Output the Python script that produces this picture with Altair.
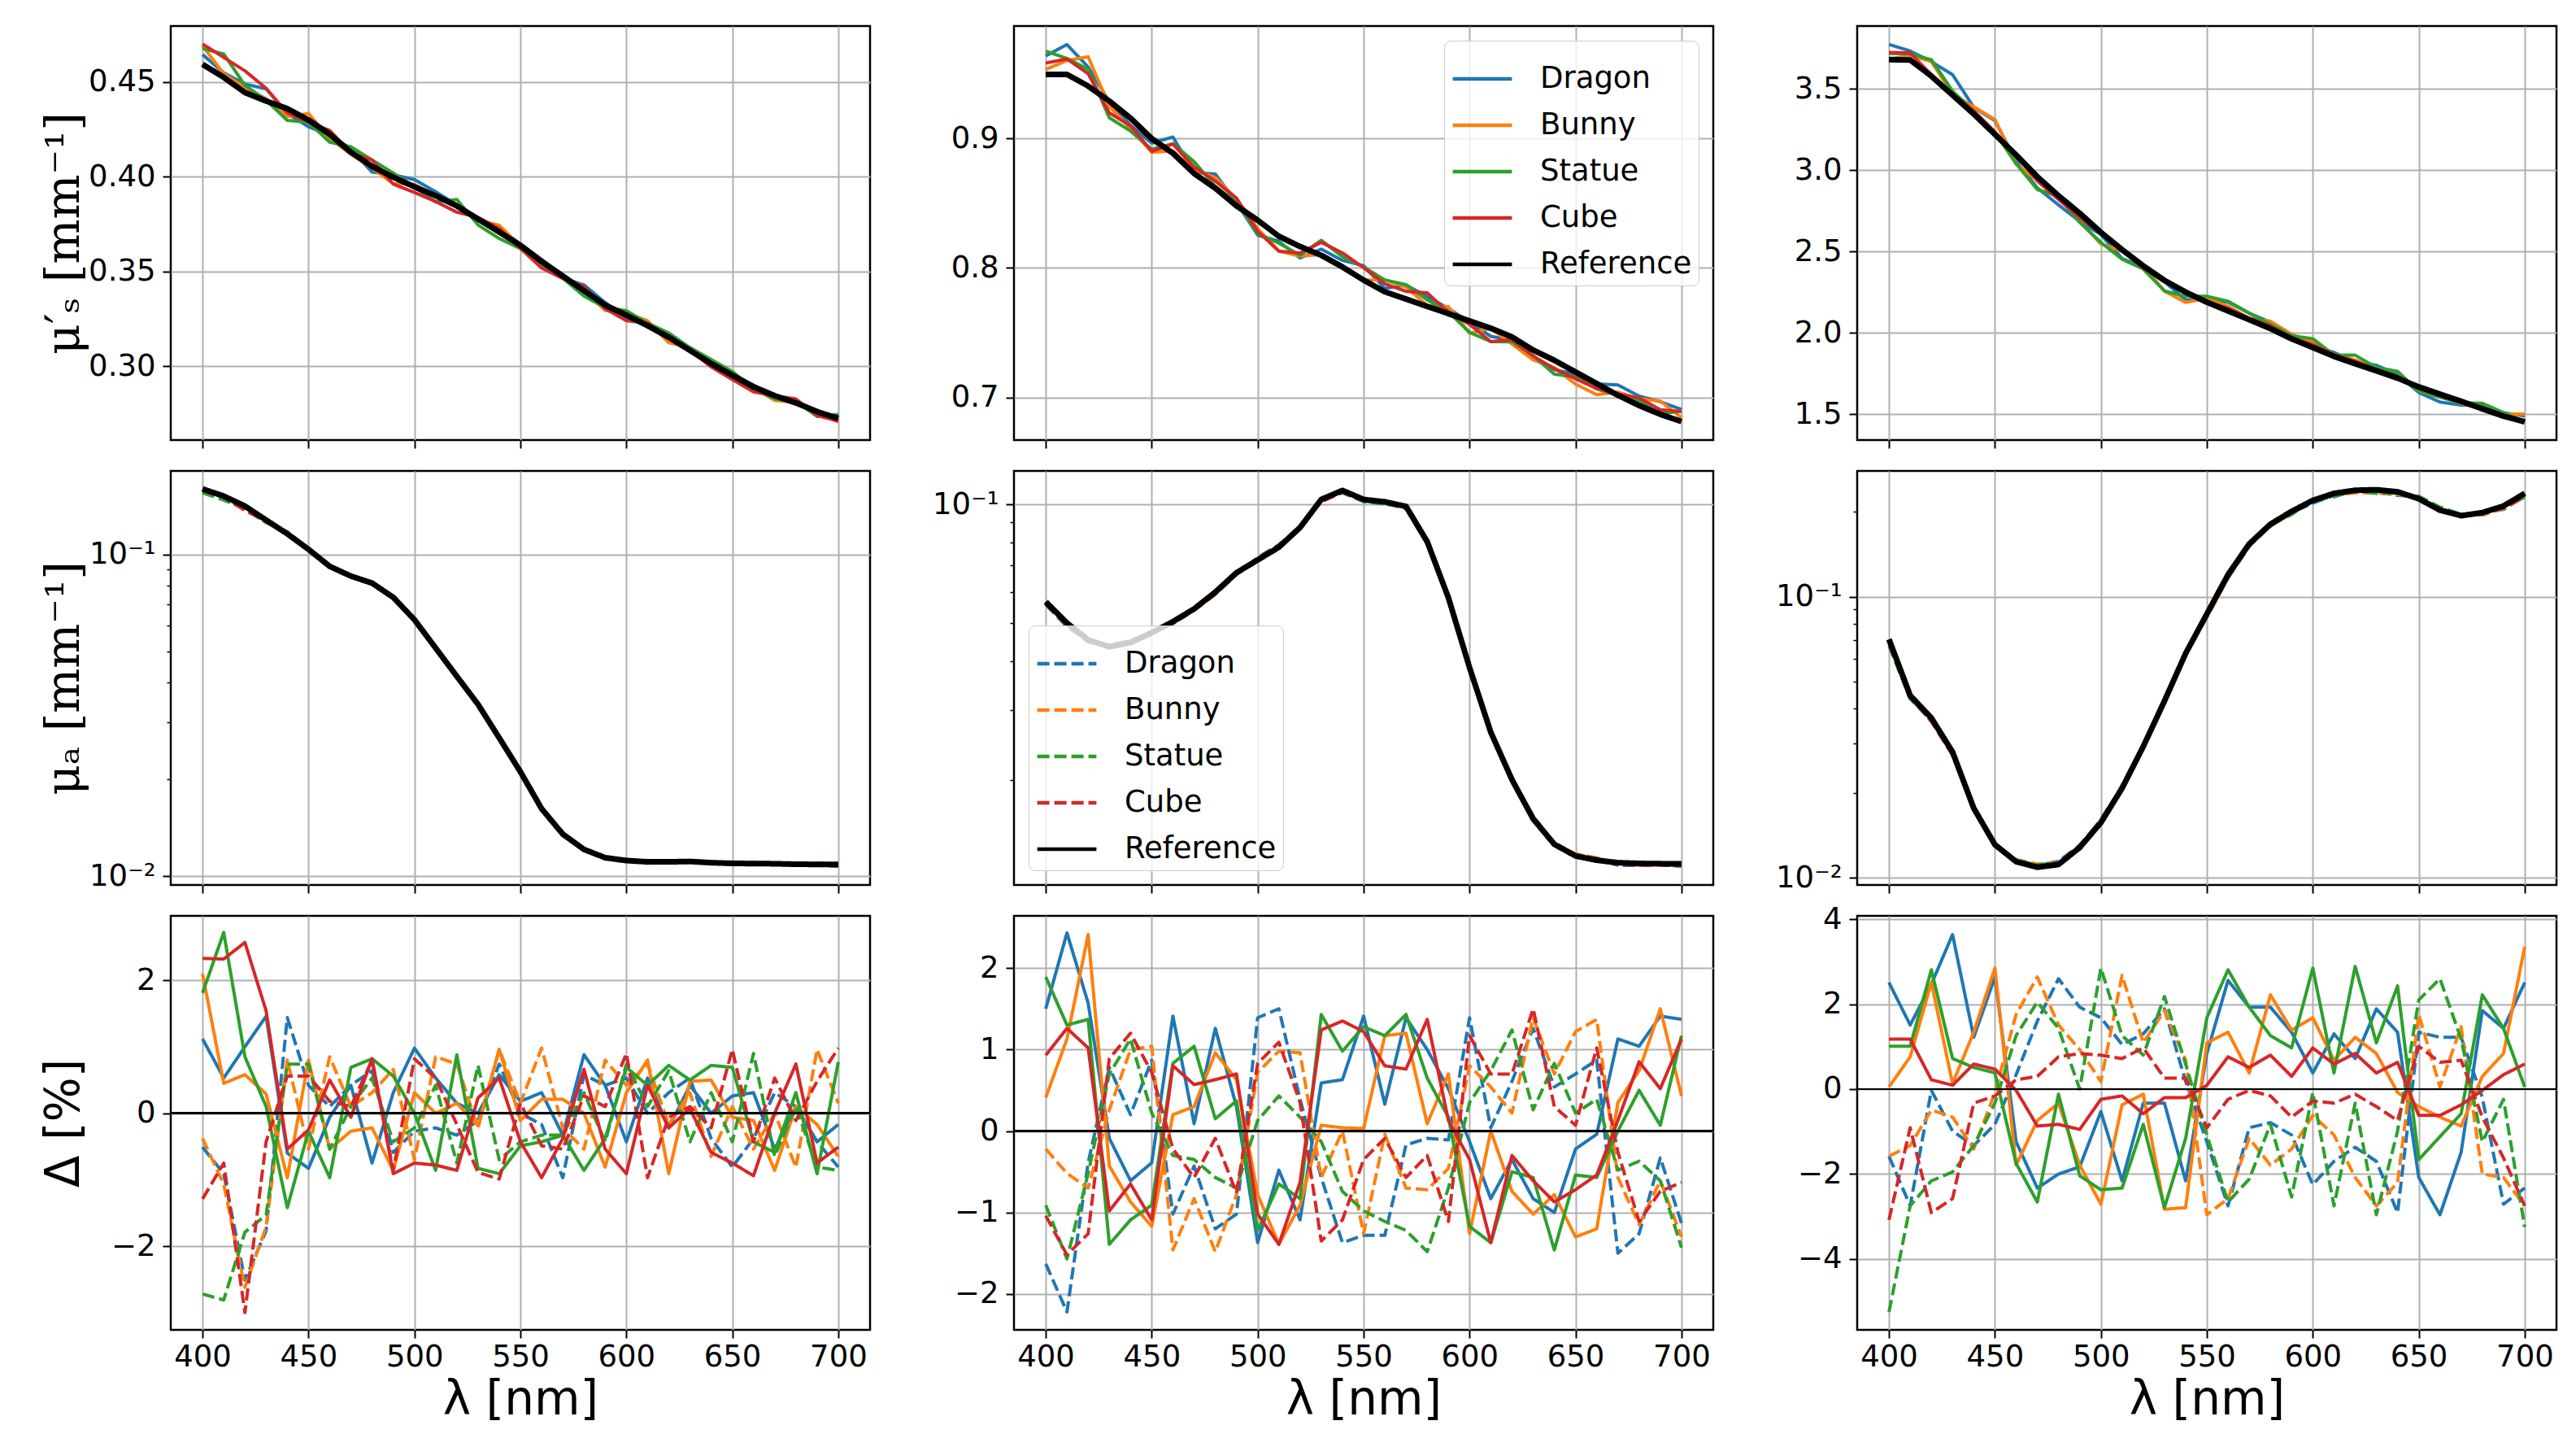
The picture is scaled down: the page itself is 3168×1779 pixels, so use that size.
import altair as alt
import pandas as pd

wavelength = list(range(400, 701, 10))
objects = ["Dragon", "Bunny", "Statue", "Cube"]
palette = ["#1f77b4", "#ff7f0e", "#2ca02c", "#d62728"]

# reference optical properties of the three phantoms (left, middle, right column)
mus_ref_a = [0.4594, 0.4525, 0.4445, 0.4400, 0.4360, 0.4300, 0.4224, 0.4130, 0.4055, 0.3998, 0.3947,
             0.3900, 0.3846, 0.3777, 0.3708, 0.3638, 0.3553, 0.3476, 0.3399, 0.3322, 0.3270, 0.3214,
             0.3153, 0.3083, 0.3014, 0.2952, 0.2891, 0.2844, 0.2806, 0.2760, 0.2724]
mus_ref_b = [0.9496, 0.9496, 0.9406, 0.9290, 0.9158, 0.9000, 0.8887, 0.8730, 0.8617, 0.8480, 0.8369,
             0.8245, 0.8166, 0.8098, 0.8008, 0.7906, 0.7816, 0.7760, 0.7703, 0.7647, 0.7591, 0.7534,
             0.7467, 0.7365, 0.7286, 0.7196, 0.7106, 0.7016, 0.6937, 0.6869, 0.6813]
mus_ref_c = [3.681, 3.678, 3.579, 3.462, 3.346, 3.220, 3.094, 2.960, 2.843, 2.735, 2.618, 2.511, 2.412,
             2.322, 2.250, 2.188, 2.134, 2.080, 2.026, 1.963, 1.909, 1.855, 1.810, 1.766, 1.721, 1.667,
             1.622, 1.578, 1.532, 1.487, 1.452]

mua_ref_a = [0.1600, 0.1520, 0.1415, 0.1280, 0.1160, 0.1038, 0.0919, 0.0857, 0.0815, 0.0736, 0.0627,
             0.0512, 0.0418, 0.0342, 0.0269, 0.0211, 0.0162, 0.0135, 0.0121, 0.0114, 0.01117, 0.01107,
             0.01107, 0.01110, 0.01100, 0.01095, 0.01093, 0.01092, 0.01088, 0.01087, 0.01085]
mua_ref_b = [0.0566, 0.0500, 0.0453, 0.0435, 0.0446, 0.0472, 0.0504, 0.0543, 0.0599, 0.0671, 0.0723,
             0.0779, 0.0874, 0.1030, 0.1086, 0.1030, 0.1016, 0.0989, 0.0805, 0.0580, 0.0385, 0.0264,
             0.0200, 0.0159, 0.0137, 0.0128, 0.01248, 0.0123, 0.01225, 0.01223, 0.01222]
mua_ref_c = [0.0705, 0.0445, 0.0370, 0.0280, 0.01767, 0.0131, 0.0114, 0.01089, 0.01114, 0.0128, 0.0157,
             0.0208, 0.0293, 0.0425, 0.0628, 0.0867, 0.1197, 0.1540, 0.1810, 0.2010, 0.2200, 0.2330,
             0.2390, 0.2400, 0.2360, 0.2230, 0.2030, 0.1940, 0.1990, 0.2100, 0.2330]

# relative deviation of each estimate from the reference, in %
dmus_a_dragon = [1.12, 0.53, 1.0, 1.46, -0.6, -0.83, -0.06, 0.42, -0.75, 0.31, 0.98, 0.53, 0.15, 0.0, 0.58, 0.18,
                 0.31, -0.33, 0.88, 0.42, -0.43, 0.53, -0.22, 0.42, 0.0, 0.26, 0.31, -0.54, 0.1, -0.43, -0.17]
dmus_a_bunny = [2.1, 0.45, 0.58, 0.29, -0.97, 0.8, -0.54, -0.27, -0.22, -0.86, 0.31, 0.0, 0.15, -0.19, 0.96, -0.11,
                0.21, 0.21, 0.0, -0.81, 0.31, 0.8, -0.91, 0.48, 0.5, -0.06, -0.11, -0.86, 0.1, -0.17, -0.65]
dmus_a_statue = [1.81, 2.72, 0.85, 0.1, -1.42, -0.27, -0.97, 0.69, 0.82, 0.56, 0.0, -0.86, 0.88, -0.83, -0.91, -0.49,
                 -0.43, -0.33, -0.86, -0.38, 0.69, 0.42, 0.72, 0.5, 0.72, 0.69, -0.43, -0.59, 0.31, -0.91, 0.77]
dmus_a_cube = [2.33, 2.32, 2.57, 1.54, -0.54, -0.25, 0.5, -0.06, 0.82, -0.91, -0.75, -0.78, -0.86, 0.23, 0.53, -0.43,
               -0.97, -0.38, 0.66, -0.54, -0.91, 0.42, -0.22, 0.07, -0.59, -0.75, -0.94, 0.0, 0.74, -0.75, -0.51]
dmua_a_dragon = [-0.51, -0.91, -2.51, -1.77, 1.44, 0.42, 0.1, 0.42, 0.64, -0.59, -0.27, -0.22, -0.33, -0.11, 0.74, 0.0,
                 -0.17, -0.97, 0.58, 0.42, 0.53, 0.0, 0.31, 0.53, -0.38, -0.81, -0.38, 0.31, 0.1, -0.43, -0.81]
dmua_a_bunny = [-0.38, -1.07, -2.62, -1.71, 0.8, -0.54, 0.85, 0.1, 0.31, 0.66, -0.7, 0.85, 0.74, -0.22, 0.96, 0.15,
                0.98, -0.22, -0.54, 0.8, 0.42, 0.74, -0.17, 0.31, -0.65, 0.1, -0.54, 0.0, -0.81, 0.96, 0.15]
dmua_a_statue = [-2.72, -2.81, -1.79, -1.53, 0.74, 0.74, -0.54, 0.1, 0.53, -0.43, -0.22, 0.42, -0.75, 0.72, -0.7, -0.43,
                 -0.33, -0.33, 0.31, -0.43, 0.74, 0.1, 0.64, -0.43, 0.31, -0.43, 0.9, -0.65, 0.1, -0.81, -0.86]
dmua_a_cube = [-1.29, -0.75, -3.0, -0.43, 0.56, 0.56, 0.18, 0.1, 0.8, -0.86, 0.82, 0.53, -0.17, -0.89, -0.99, 0.15,
               -0.49, -0.54, 0.26, 0.1, 0.9, -0.97, -0.06, 0.1, -0.22, 0.96, -0.43, 0.53, -0.11, 0.48, 0.98]

dmus_b_dragon = [1.5, 2.43, 1.57, -0.09, -0.61, -0.39, 1.41, 0.09, 1.26, 0.3, -1.37, -0.48, -1.09, 0.59, 0.63, 1.41,
                 0.33, 1.39, 1.0, 0.52, -0.13, -0.83, -0.35, -0.83, -1.0, -0.22, -0.04, 1.13, 1.04, 1.41, 1.37]
dmus_b_bunny = [0.41, 1.13, 2.41, -0.43, -0.87, -1.17, 0.2, 0.3, 0.96, 0.63, -0.78, -1.39, -0.91, 0.07, 0.04, 0.03,
                1.17, 1.2, 0.09, 0.7, -1.26, 0.0, -0.74, -1.02, -0.78, -1.3, -1.2, 0.35, 0.74, 1.5, 0.43]
dmus_b_statue = [1.89, 1.3, 1.37, -1.39, -1.09, -0.91, 0.83, 1.04, 0.15, 0.37, -1.22, -0.65, -0.83, 1.43, 0.98, 1.28,
                 1.17, 1.43, 0.65, 0.17, -1.17, -1.37, -0.5, -0.57, -1.46, -0.54, -0.57, 0.0, 0.5, 0.07, 1.17]
dmus_b_cube = [0.93, 1.26, 1.02, -0.98, -0.65, -1.09, 0.8, 0.57, 0.63, 0.7, -1.02, -1.39, -0.63, 1.24, 1.35, 1.22,
               0.8, 0.76, 1.37, 0.13, -0.35, -1.37, -0.3, -0.61, -0.87, -0.72, -0.54, 0.13, 0.85, 0.52, 1.13]
dmua_b_dragon = [-1.63, -2.22, -0.39, 0.78, 0.2, 0.87, -1.02, -0.43, -1.2, -1.02, 1.39, 1.5, 0.39, -0.57, -1.37, -1.28,
                 -1.28, -0.17, -0.09, -0.11, 1.39, 0.04, 0.61, 1.26, 0.54, 0.7, 0.87, -1.5, -1.26, -0.33, -1.13]
dmua_b_bunny = [-0.22, -0.52, -0.7, 0.26, 1.0, 1.04, -1.46, -0.83, -1.48, -0.78, 0.72, 0.98, 0.96, -0.57, 0.0, -1.26,
                -0.04, -0.7, -0.72, -0.46, 0.8, 0.54, 0.22, 1.39, 0.7, 1.22, 1.37, -0.57, -1.15, -0.61, -1.3]
dmua_b_statue = [-0.91, -1.57, -0.52, 0.7, 1.13, 0.22, -0.3, -0.35, -0.57, -0.7, 0.13, 0.43, 0.17, -0.13, -0.74, -0.98,
                 -1.11, -1.22, -1.48, -0.7, 0.35, 0.74, 1.24, 0.26, 0.83, 0.22, 0.39, -0.48, -0.37, -0.61, -1.43]
dmua_b_cube = [-1.04, -1.52, -1.26, 0.89, 1.2, 0.72, -0.22, -0.57, -0.09, -0.76, 0.83, 1.09, 0.35, -1.35, -1.09, -0.35,
               -0.09, -0.57, -0.3, -1.11, 1.17, 0.7, 0.7, 1.5, 0.3, 0.07, 1.02, -0.26, -1.11, -0.74, -0.63]

dmus_c_dragon = [2.51, 1.51, 2.47, 3.64, 1.22, 2.64, -1.24, -2.33, -2.0, -1.83, -0.53, -2.16, -0.33, -0.33, -2.16, 0.84,
                 2.56, 1.93, 1.93, 1.34, 0.38, 1.3, 0.72, 1.89, 1.34, -2.08, -2.96, -1.49, 1.85, 1.43, 2.51]
dmus_c_bunny = [0.05, 0.76, 2.51, 0.13, 1.34, 2.85, -1.79, -0.74, -0.33, -1.79, -2.71, -0.37, -0.12, -2.83, -2.79, 1.09,
                1.34, 0.38, 2.22, 1.39, 1.68, 0.68, 1.22, 0.84, -0.08, -0.41, -0.66, -0.87, 0.3, 0.84, 3.35]
dmus_c_statue = [1.01, 1.01, 2.81, 0.72, 0.51, 0.38, -1.75, -2.66, -0.12, -2.04, -2.37, -2.33, -0.83, -2.79, -1.16, 1.68,
                 2.81, 1.93, 1.26, 0.97, 2.85, 0.38, 2.89, 1.09, 2.43, -1.66, -1.12, -0.58, 2.22, 1.43, 0.05]
dmus_c_cube = [1.18, 1.18, 0.22, 0.09, 0.59, 0.47, -0.03, -0.87, -0.83, -0.95, -0.24, -0.16, -0.58, -0.2, -0.2, 0.09,
               0.76, 0.51, 0.8, 0.3, 0.97, 0.59, 0.84, 0.38, 0.63, -0.62, -0.62, -0.37, -0.03, 0.34, 0.59]
dmua_c_dragon = [-1.58, -2.75, -0.03, -0.99, -1.33, -0.83, 0.34, 1.6, 2.6, 1.93, 1.68, 1.05, 1.3, 1.89, 0.18, -1.24,
                 -2.75, -0.91, -0.79, -1.08, -2.25, -1.7, -1.37, -1.7, -2.91, 1.34, 1.22, 1.22, -0.2, -2.71, -2.33]
dmua_c_bunny = [-1.58, -1.33, -0.49, -0.66, -1.41, -0.08, 1.76, 2.64, 1.51, 0.93, 0.18, 2.68, 1.09, 1.85, 0.68, -2.96,
                -2.58, -1.16, -1.79, -1.41, -0.62, -1.08, -2.08, -2.75, -2.2, 1.76, 0.05, 1.47, -2.0, -2.08, -2.75]
dmua_c_statue = [-5.25, -2.75, -2.16, -1.95, -1.33, -0.33, 1.26, 2.05, 1.43, 0.0, 2.85, 1.26, 0.8, 2.18, 0.59, -1.08,
                 -2.66, -2.12, -0.83, -2.54, -0.08, -2.75, -0.33, -2.96, -0.99, 2.1, 2.6, 1.18, -1.24, -0.24, -3.25]
dmua_c_cube = [-3.08, -0.91, -2.91, -2.58, -0.33, -0.16, 0.22, 0.3, 0.76, 0.84, 0.8, 0.72, 0.97, 0.26, 0.26, -0.91,
               -0.24, -0.03, -0.16, -0.66, -0.28, -0.33, -0.12, -0.41, -0.74, 1.01, 0.63, 0.68, -0.66, -1.62, -2.75]

x_ticks = [400, 450, 500, 550, 600, 650, 700]
names = objects + ["Reference"]
colors = palette + ["black"]
W, H = 860, 509
FONT = "DejaVu Sans"


def legend(orient):
    return alt.Legend(title=None, orient=orient, offset=18, symbolType="stroke", symbolSize=5300,
                      symbolStrokeWidth=4.5, labelFont=FONT, labelFontSize=37, labelColor="black",
                      labelOffset=32, rowPadding=0, padding=8, labelLimit=0,
                      fillColor="rgba(255,255,255,0.8)", strokeColor="#cccccc", cornerRadius=8)


def x_enc(bottom):
    if bottom:
        ax = alt.Axis(values=x_ticks, format="d", title="λ [nm]", titlePadding=6)
    else:
        ax = alt.Axis(values=x_ticks, labels=False, title=None)
    return alt.X("wl:Q", scale=alt.Scale(domain=[385, 715], nice=False, zero=False), axis=ax)


def y_axis(values, fmt=None, title=None, title_font=FONT, log=False):
    kw = dict(values=values, title=title, labelOverlap=False)
    if fmt:
        kw["format"] = fmt
    if title:
        kw.update(minExtent=95, maxExtent=95, titlePadding=7, titleFont=title_font)
    if log:
        major = "datum.value == 0.1 || datum.value == 0.01"
        kw["labelExpr"] = "datum.value == 0.1 ? '10⁻¹' : datum.value == 0.01 ? '10⁻²' : ''"
        kw["tickSize"] = {"condition": {"test": major, "value": 10}, "value": 5}
        kw["tickWidth"] = {"condition": {"test": major, "value": 2}, "value": 1.5}
        kw["gridOpacity"] = {"condition": {"test": major, "value": 1}, "value": 0}
    return alt.Axis(**kw)


def curve_panel(ref, deltas, domain, axis, log=False, dashed=False, leg=None):
    # estimated curves are the reference scaled by the plotted deviation
    rows = []
    for name, d in zip(objects, deltas):
        for w, r, dv in zip(wavelength, ref, d):
            rows.append({"wl": w, "val": r * (1 + dv / 100), "series": name})
    est = pd.DataFrame(rows)
    refdf = pd.DataFrame({"wl": wavelength, "val": ref, "series": "Reference"})

    sc = alt.Scale(domain=domain, nice=False, zero=False, type="log") if log else \
        alt.Scale(domain=domain, nice=False, zero=False)
    enc = dict(
        x=x_enc(False),
        y=alt.Y("val:Q", scale=sc, axis=axis),
        color=alt.Color("series:N", scale=alt.Scale(domain=names, range=colors), legend=leg),
    )
    if dashed:
        enc["strokeDash"] = alt.StrokeDash(
            "series:N", scale=alt.Scale(domain=names, range=[[15, 6]] * 4 + [[1, 0]]), legend=leg)
    lines = alt.Chart(est).mark_line(strokeWidth=4, strokeJoin="round").encode(**enc)
    refl = alt.Chart(refdf).mark_line(strokeWidth=7, strokeJoin="round").encode(**enc)
    return alt.layer(lines, refl).properties(width=W, height=H)


def delta_panel(mus_d, mua_d, domain, axis):
    rows = []
    for name, dm, da in zip(objects, mus_d, mua_d):
        for w, a, b in zip(wavelength, dm, da):
            rows.append({"wl": w, "delta": a, "series": name, "kind": "mus"})
            rows.append({"wl": w, "delta": b, "series": name, "kind": "mua"})
    df = pd.DataFrame(rows)
    lines = alt.Chart(df).mark_line(strokeWidth=4, strokeJoin="round").encode(
        x=x_enc(True),
        y=alt.Y("delta:Q", scale=alt.Scale(domain=domain, nice=False, zero=False), axis=axis),
        color=alt.Color("series:N", scale=alt.Scale(domain=names, range=colors), legend=None),
        strokeDash=alt.StrokeDash("kind:N", scale=alt.Scale(domain=["mus", "mua"], range=[[1, 0], [15, 6]]),
                                  legend=None),
        detail="kind:N",
    )
    zero = alt.Chart(df).mark_rule(color="black", strokeWidth=2).encode(y=alt.datum(0))
    return alt.layer(lines, zero).properties(width=W, height=H)


minor_a = [0.01, 0.02, 0.03, 0.04, 0.05, 0.06, 0.07, 0.08, 0.09, 0.1]
minor_b = [0.02, 0.03, 0.04, 0.05, 0.06, 0.07, 0.08, 0.09, 0.1]
minor_c = [0.01, 0.02, 0.03, 0.04, 0.05, 0.06, 0.07, 0.08, 0.09, 0.1, 0.2]

panels = [
    curve_panel(mus_ref_a, [dmus_a_dragon, dmus_a_bunny, dmus_a_statue, dmus_a_cube], [0.261, 0.4796],
                y_axis([0.30, 0.35, 0.40, 0.45], ".2f", "μ′ₛ [mm⁻¹]", "DejaVu Serif")),
    curve_panel(mus_ref_b, [dmus_b_dragon, dmus_b_bunny, dmus_b_statue, dmus_b_cube], [0.667, 0.987],
                y_axis([0.7, 0.8, 0.9], ".1f"), leg=legend("top-right")),
    curve_panel(mus_ref_c, [dmus_c_dragon, dmus_c_bunny, dmus_c_statue, dmus_c_cube], [1.34, 3.887],
                y_axis([1.5, 2.0, 2.5, 3.0, 3.5], ".1f")),
    curve_panel(mua_ref_a, [dmua_a_dragon, dmua_a_bunny, dmua_a_statue, dmua_a_cube], [0.00938, 0.182],
                y_axis(minor_a, None, "μₐ [mm⁻¹]", "DejaVu Serif", log=True), log=True, dashed=True),
    curve_panel(mua_ref_b, [dmua_b_dragon, dmua_b_bunny, dmua_b_statue, dmua_b_cube], [0.0108, 0.1217],
                y_axis(minor_b, log=True), log=True, dashed=True, leg=legend("bottom-left")),
    curve_panel(mua_ref_c, [dmua_c_dragon, dmua_c_bunny, dmua_c_statue, dmua_c_cube], [0.00942, 0.28],
                y_axis(minor_c, log=True), log=True, dashed=True),
    delta_panel([dmus_a_dragon, dmus_a_bunny, dmus_a_statue, dmus_a_cube],
                [dmua_a_dragon, dmua_a_bunny, dmua_a_statue, dmua_a_cube], [-3.26, 2.97],
                y_axis([-2, 0, 2], "d", "Δ [%]")),
    delta_panel([dmus_b_dragon, dmus_b_bunny, dmus_b_statue, dmus_b_cube],
                [dmua_b_dragon, dmua_b_bunny, dmua_b_statue, dmua_b_cube], [-2.44, 2.64],
                y_axis([-2, -1, 0, 1, 2], "d")),
    delta_panel([dmus_c_dragon, dmus_c_bunny, dmus_c_statue, dmus_c_cube],
                [dmua_c_dragon, dmua_c_bunny, dmua_c_statue, dmua_c_cube], [-5.67, 4.08],
                y_axis([-4, -2, 0, 2, 4], "d")),
]

chart = alt.concat(
    *panels, columns=3, spacing={"row": 38, "column": 177}, bounds="flush"
).resolve_scale(
    color="independent", strokeDash="independent"
).properties(
    padding={"left": 40, "top": 22, "right": 10, "bottom": 5}
).configure_view(
    stroke="black", strokeWidth=2.5
).configure_axis(
    labelFont=FONT, labelFontSize=37, labelColor="black",
    titleFont=FONT, titleFontSize=58, titleFontWeight="normal", titleColor="black",
    tickColor="black", tickWidth=2, tickSize=10,
    gridColor="#b0b0b0", gridWidth=2, domain=False
).configure_axisX(
    labelPadding=5
).configure_axisY(
    labelPadding=9
)

chart.save("out.html", embed_options={"renderer": "svg", "actions": False})
